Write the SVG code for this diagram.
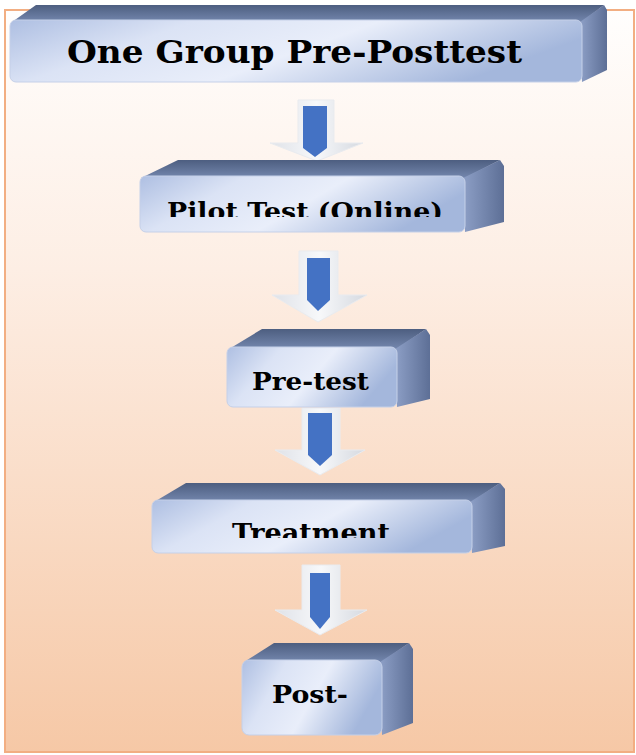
<svg xmlns="http://www.w3.org/2000/svg" width="636" height="755" viewBox="0 0 636 755">
<defs>
<linearGradient id="bg" x1="0" y1="0" x2="0" y2="1">
<stop offset="0" stop-color="#fffefd"/>
<stop offset="0.35" stop-color="#fdeee4"/>
<stop offset="1" stop-color="#f6c8a6"/>
</linearGradient>
<linearGradient id="front" x1="0" y1="0" x2="1" y2="0.3">
<stop offset="0" stop-color="#aebfe2"/>
<stop offset="0.3" stop-color="#dbe3f5"/>
<stop offset="0.6" stop-color="#e9eefa"/>
<stop offset="1" stop-color="#a4b7dc"/>
</linearGradient>
<linearGradient id="top" x1="0" y1="0" x2="0" y2="1">
<stop offset="0" stop-color="#4d5e80"/>
<stop offset="1" stop-color="#7487ae"/>
</linearGradient>
<linearGradient id="side" x1="0" y1="0" x2="1" y2="0">
<stop offset="0" stop-color="#8d9fc6"/>
<stop offset="1" stop-color="#5d6f96"/>
</linearGradient>
<linearGradient id="arrowOut" x1="0" y1="0" x2="1" y2="0">
<stop offset="0" stop-color="#dfe2e8"/>
<stop offset="0.5" stop-color="#f7f8fa"/>
<stop offset="1" stop-color="#d5d9e0"/>
</linearGradient>
<clipPath id="clipPilot"><rect x="0" y="0" width="636" height="217"/></clipPath>
<clipPath id="clipTreat"><rect x="0" y="0" width="636" height="538"/></clipPath>
</defs>
<style>
.front{fill:url(#front);stroke:#c5d0e8;stroke-width:1}
.top{fill:url(#top)}
.side{fill:url(#side)}
.lbl{font-family:"DejaVu Serif","Liberation Serif",serif;font-weight:bold;fill:#000}
.aout{fill:url(#arrowOut);stroke:#e9ebef;stroke-width:1}
.ain{fill:#4472c4}
.frame{fill:url(#bg);stroke:#f2ae82;stroke-width:2}
</style>
<rect class="frame" x="5" y="10" width="629" height="742"/>

<g id="connectors">
<g id="arrow1">
<polygon class="aout" points="298,100 334,100 334,143 363,143 317,161 270,143 298,143"/>
<polygon class="ain" points="303,106 327,106 327,148 315,157 303,148"/>
</g>
<g id="arrow2">
<polygon class="aout" points="299,251 338,251 338,295 367,295 318,322 272,295 299,295"/>
<polygon class="ain" points="307,258 330,258 330,300 318,311 307,300"/>
</g>
<g id="arrow3">
<polygon class="aout" points="302,408 340,408 340,450 365,450 320,475 275,450 302,450"/>
<polygon class="ain" points="308,413 332,413 332,455 320,466 308,455"/>
</g>
<g id="arrow4">
<polygon class="aout" points="302,565 340,565 340,610 367,610 320,635 275,610 302,610"/>
<polygon class="ain" points="310,573 330,573 330,617 320,629 310,617"/>
</g>
</g>

<g id="node1">
<polygon class="top" points="12,22 36,5 604,5 582,22"/>
<polygon class="side" points="580,22 604,5 607,10 607,70 582,82"/>
<rect class="front" x="10" y="20" width="572" height="62" rx="6"/>
<text class="lbl" x="67" y="63" font-size="31" textLength="455" lengthAdjust="spacingAndGlyphs">One Group Pre-Posttest</text>
</g>

<g id="node2">
<polygon class="top" points="141,178 178,160 500,160 465,178"/>
<polygon class="side" points="463,178 500,160 504,166 504,222 465,232"/>
<rect class="front" x="140" y="176" width="325" height="56" rx="6"/>
<text class="lbl" x="167" y="220" font-size="25" textLength="276" lengthAdjust="spacingAndGlyphs" clip-path="url(#clipPilot)">Pilot Test (Online)</text>
</g>

<g id="node3">
<polygon class="top" points="229,349 262,329 426,329 397,349"/>
<polygon class="side" points="395,349 426,329 430,335 430,399 397,407"/>
<rect class="front" x="227" y="347" width="170" height="60" rx="6"/>
<text class="lbl" x="252" y="390" font-size="25" textLength="117" lengthAdjust="spacingAndGlyphs">Pre-test</text>
</g>

<g id="node4">
<polygon class="top" points="154,502 186,483 500,483 472,502"/>
<polygon class="side" points="470,502 500,483 505,489 505,546 472,553"/>
<rect class="front" x="152" y="500" width="320" height="53" rx="6"/>
<text class="lbl" x="232" y="542" font-size="26" textLength="158" lengthAdjust="spacingAndGlyphs" clip-path="url(#clipTreat)">Treatment</text>
</g>

<g id="node5">
<polygon class="top" points="244,662 274,643 409,643 382,662"/>
<polygon class="side" points="380,662 409,643 413,649 413,723 382,735"/>
<rect class="front" x="242" y="660" width="140" height="75" rx="7"/>
<text class="lbl" x="272" y="703" font-size="25" textLength="76" lengthAdjust="spacingAndGlyphs">Post-</text>
</g>
</svg>
